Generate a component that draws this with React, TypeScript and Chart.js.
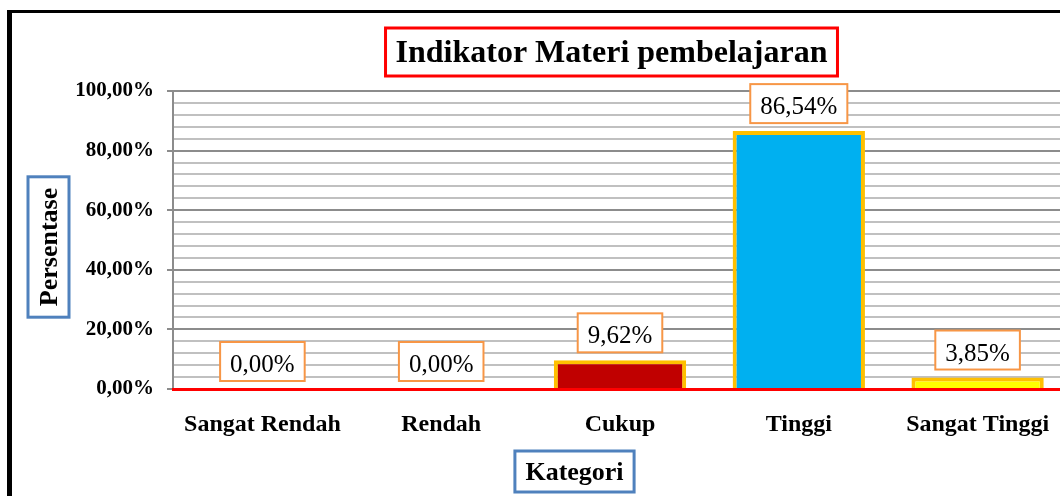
import React, { useEffect, useRef } from 'react';
import { Chart, registerables } from 'chart.js';

Chart.register(...registerables);

const categories = ['Sangat Rendah', 'Rendah', 'Cukup', 'Tinggi', 'Sangat Tinggi'];
const values = [0, 0, 9.62, 86.54, 3.85];
const barColors = ['#C00000', '#C00000', '#C00000', '#00B0F0', '#FFFF00'];
const yMin = 0;
const yMax = 100;
const yMinorStep = 4;
const yMajorStep = 20;
const chartTitle = 'Indikator Materi pembelajaran';
const yTitle = 'Persentase';
const xTitle = 'Kategori';

const FONT = '"Liberation Serif", "Times New Roman", serif';
const fmtPct = (v: number) => v.toFixed(2).replace('.', ',') + '%';
const isMajor = (v: number) => Math.abs(v % yMajorStep) < 1e-6;

function strokeBox(ctx: CanvasRenderingContext2D, x: number, y: number, w: number, h: number, color: string, lw: number) {
  ctx.fillStyle = '#ffffff';
  ctx.fillRect(x, y, w, h);
  ctx.strokeStyle = color;
  ctx.lineWidth = lw;
  ctx.strokeRect(x, y, w, h);
}

const decorPlugin = {
  id: 'decor',
  afterDraw(chart: any) {
    const ctx: CanvasRenderingContext2D = chart.ctx;
    ctx.save();

    // outer chart frame (left and top visible)
    ctx.fillStyle = '#000000';
    ctx.fillRect(7, 10, 5, chart.height);
    ctx.fillRect(7, 10, chart.width, 3);

    // title
    ctx.font = `bold 32px ${FONT}`;
    const tw = ctx.measureText(chartTitle).width;
    const tcx = 611.5;
    strokeBox(ctx, tcx - tw / 2 - 10, 28, tw + 20, 48, '#FF0000', 3);
    ctx.fillStyle = '#000000';
    ctx.textAlign = 'center';
    ctx.textBaseline = 'alphabetic';
    ctx.fillText(chartTitle, tcx, 62);

    // x axis title
    ctx.font = `bold 26px ${FONT}`;
    const xw = ctx.measureText(xTitle).width;
    const xcx = 574.5;
    strokeBox(ctx, xcx - xw / 2 - 10.5, 451, xw + 21, 41, '#4F81BD', 3);
    ctx.fillStyle = '#000000';
    ctx.fillText(xTitle, xcx, 480);

    // y axis title (rotated)
    const yw = ctx.measureText(yTitle).width;
    const ycy = 247;
    strokeBox(ctx, 28, ycy - yw / 2 - 11, 41, yw + 22, '#4F81BD', 3);
    ctx.save();
    ctx.translate(57, ycy);
    ctx.rotate(-Math.PI / 2);
    ctx.fillStyle = '#000000';
    ctx.fillText(yTitle, 0, 0);
    ctx.restore();

    // data labels
    const meta = chart.getDatasetMeta(0);
    ctx.font = `25px ${FONT}`;
    meta.data.forEach((bar: any, i: number) => {
      const text = fmtPct(values[i]);
      const w = ctx.measureText(text).width + 20;
      const h = 39;
      const bottom = bar.y - 8;
      const top = bottom - h;
      strokeBox(ctx, bar.x - w / 2, top, w, h, '#F79646', 2);
      ctx.fillStyle = '#000000';
      ctx.textAlign = 'center';
      ctx.textBaseline = 'alphabetic';
      ctx.fillText(text, bar.x, top + 30);
    });

    ctx.restore();
  },
};

export default function App() {
  const ref = useRef<HTMLCanvasElement | null>(null);

  useEffect(() => {
    if (!ref.current) return;
    Chart.defaults.font.family = FONT;
    const chart = new Chart(ref.current, {
      type: 'bar',
      data: {
        labels: categories,
        datasets: [
          {
            data: values,
            backgroundColor: barColors,
            borderColor: '#FFC000',
            borderWidth: 4,
            borderSkipped: 'start',
            categoryPercentage: 1,
            barPercentage: 0.74,
          },
        ],
      },
      options: {
        responsive: false,
        animation: false,
        devicePixelRatio: 1,
        layout: { padding: { left: 0, top: 91, right: 13, bottom: 0 } },
        plugins: {
          legend: { display: false },
          title: { display: false },
          tooltip: { enabled: false },
        },
        scales: {
          x: {
            grid: { display: false },
            border: { display: true, color: '#FF0000', width: 3, z: 1 },
            ticks: {
              color: '#000000',
              font: { family: FONT, size: 24, weight: 'bold' },
              padding: 13,
              maxRotation: 0,
              autoSkip: false,
            },
            afterFit: (scale: any) => {
              scale.height = 107;
            },
          },
          y: {
            min: yMin,
            max: yMax,
            grid: {
              color: (c: any) => (isMajor(c.tick.value) ? '#8C8C8C' : '#C0C0C0'),
              lineWidth: 2,
              tickLength: 6,
              tickColor: (c: any) => (isMajor(c.tick.value) ? '#8C8C8C' : 'rgba(0,0,0,0)'),
              tickWidth: 2,
            },
            border: { display: true, color: '#8C8C8C', width: 2 },
            ticks: {
              stepSize: yMinorStep,
              autoSkip: false,
              color: '#000000',
              padding: 13,
              font: { family: FONT, size: 21, weight: 'bold' },
              callback: (v: any) => (isMajor(Number(v)) ? fmtPct(Number(v)) : ''),
            },
            afterFit: (scale: any) => {
              scale.width = 173;
            },
          },
        },
      },
      plugins: [decorPlugin],
    } as any);
    return () => chart.destroy();
  }, []);

  return (
    <div
      style={{
        position: 'fixed',
        left: 0,
        top: 0,
        width: 1060,
        height: 496,
        overflow: 'hidden',
        background: '#ffffff',
      }}
    >
      <canvas ref={ref} width={1080} height={496} style={{ display: 'block' }} />
    </div>
  );
}
